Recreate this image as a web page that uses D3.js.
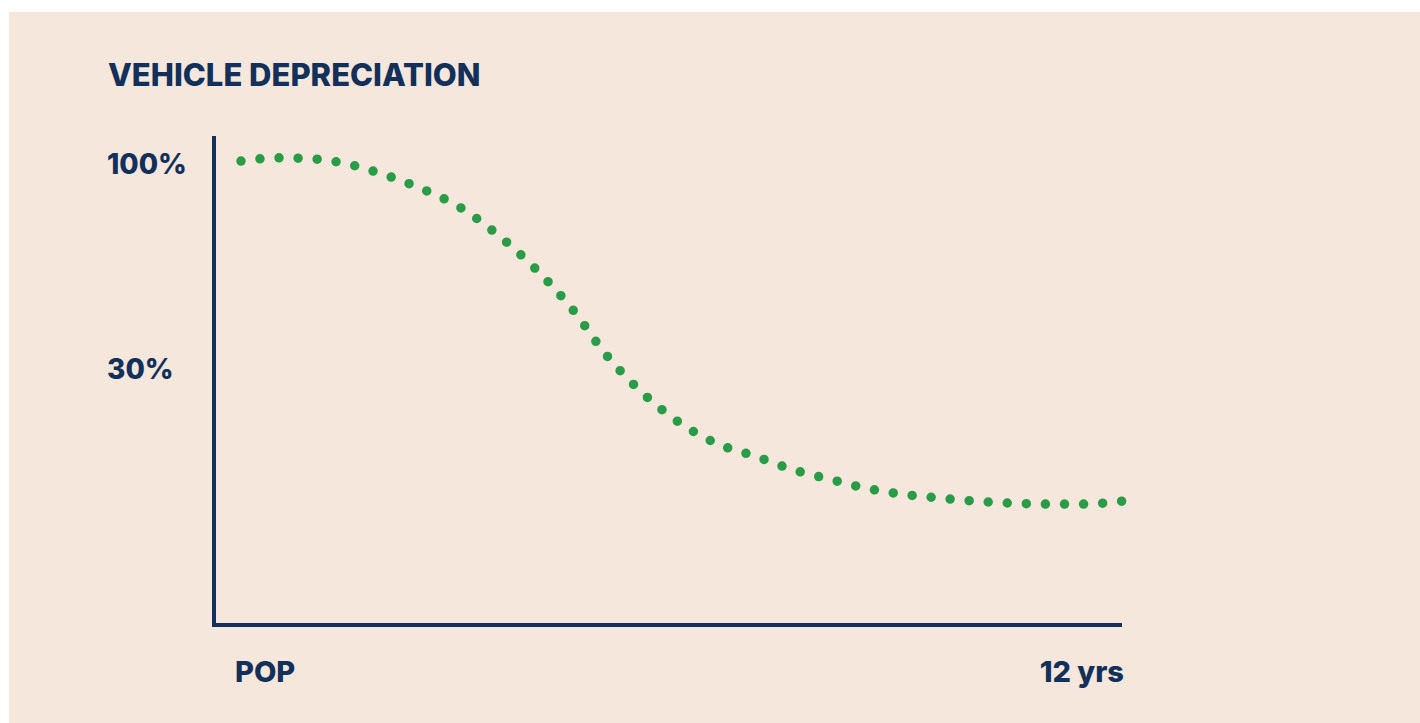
<!doctype html>
<html>
<head>
    <style>
        body { margin: 0; background: #ffffff; }
        text { font-family: "Inter", "Open Sans", sans-serif; font-weight: 800; fill: #12305a; }
    </style>
    <script src="https://d3js.org/d3.v7.min.js"></script>
</head>
<body>
<svg width="1420" height="723"></svg>
<script>

    // value of the vehicle at half-year steps
    var years  = [0, 0.5, 1, 1.5, 2, 2.5, 3, 3.5, 4, 4.5, 5, 5.5, 6, 6.5, 7, 7.5, 8, 8.5, 9, 9.5, 10, 10.5, 11, 11.5, 12];
    var values = [101.0, 102.1, 101.7, 99.7, 95.9, 91.1, 84.9, 75.7, 64.4, 50.7, 33.9, 20.9, 11.0, 4.1, 0.0,
                  -4.5, -7.8, -10.9, -13.0, -14.3, -15.4, -16.1, -16.4, -16.4, -15.4];

    var yTicks = [100, 30];
    var yTickLabels = ["100%", "30%"];
    var xLabels = ["POP", "12 yrs"];
    var title = "VEHICLE DEPRECIATION";

    var svg = d3.select("svg");
    var navy = "#12305a", green = "#2a9c47";

    svg.append("rect")
       .attr("x", 9).attr("y", 12)
       .attr("width", 1420).attr("height", 723)
       .attr("fill", "#f5e7db");

    var plotLeft = 214, plotRight = 1122, plotTop = 136, plotBottom = 625;

    var xScale = d3.scaleLinear().domain([0, 12]).range([241, plotRight]);
    var yScale = d3.scaleLinear().domain([30, 100]).range([368.5, 164]);

    svg.append("text")
       .attr("x", 108)
       .attr("y", 86)
       .attr("font-size", "31px")
       .text(title);

    // axis frame
    svg.append("path")
       .attr("d", "M" + plotLeft + "," + plotTop + "V" + plotBottom + "H" + plotRight)
       .attr("fill", "none")
       .attr("stroke", navy)
       .attr("stroke-width", 4);

    svg.selectAll(".ytick")
       .data(yTicks)
       .enter()
       .append("text")
       .attr("class", "ytick")
       .attr("x", 107)
       .attr("y", function(d) { return yScale(d); })
       .attr("dy", "0.36em")
       .attr("font-size", "28px")
       .text(function(d, i) { return yTickLabels[i]; });

    svg.selectAll(".xlab")
       .data([0, 12])
       .enter()
       .append("text")
       .attr("class", "xlab")
       .attr("x", function(d, i) { return i == 0 ? xScale(d) - 6 : xScale(d) + 2; })
       .attr("y", 682)
       .attr("text-anchor", function(d, i) { return i == 0 ? "start" : "end"; })
       .attr("font-size", "29px")
       .text(function(d, i) { return xLabels[i]; });

    var line = d3.line()
        .x(function(d) { return xScale(d); })
        .y(function(d, i) { return yScale(values[i]); })
        .curve(d3.curveMonotoneX);

    var path = svg.append("path")
       .datum(years)
       .attr("d", line)
       .attr("fill", "none")
       .attr("stroke", green)
       .attr("stroke-width", 9.5)
       .attr("stroke-linecap", "round");

    // space the dots evenly so one lands on each end
    var len = path.node().getTotalLength();
    var n = Math.round(len / 19.2);
    path.attr("stroke-dasharray", "0 " + (len / n - 0.01));

</script>
</body>
</html>
